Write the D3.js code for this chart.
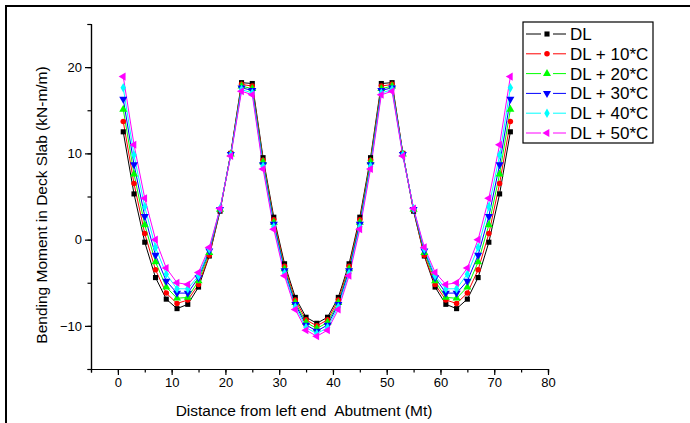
<!DOCTYPE html>
<html>
<head>
<meta charset="utf-8">
<script src="https://cdn.jsdelivr.net/npm/d3@7"></script>
<style>
  body { margin: 0; background: #fff; }
  svg { display: block; font-family: "Liberation Sans", Arial, sans-serif; }
</style>
</head>
<body>
<script>
// distance along the deck (Mt)
const distance = [1, 3, 5, 7, 9, 11, 13, 15, 17, 19, 21, 23, 25, 27, 29, 31, 33, 35, 37,
                  39, 41, 43, 45, 47, 49, 51, 53, 55, 57, 59, 61, 63, 65, 67, 69, 71, 73];

// bending moment (kN-m/m) for each load case
const dl = [12.5, 5.3, -0.3, -4.4, -6.9, -8.0, -7.5, -5.5, -1.9, 3.3, 10.0, 18.2, 18.1, 9.5, 2.6, -2.8, -6.7, -9.0, -9.7,
            -9.0, -6.7, -2.8, 2.6, 9.5, 18.1, 18.2, 10.0, 3.3, -1.9, -5.5, -7.5, -8.0, -6.9, -4.4, -0.3, 5.3, 12.5];
const dl10 = [13.7, 6.5, 0.7, -3.5, -6.2, -7.4, -7.0, -5.2, -1.8, 3.4, 10.0, 18.0, 17.8, 9.2, 2.3, -3.1, -7.0, -9.3, -10.0,
              -9.3, -7.0, -3.1, 2.3, 9.2, 17.8, 18.0, 10.0, 3.4, -1.8, -5.2, -7.0, -7.4, -6.2, -3.5, 0.7, 6.5, 13.7];
const dl20 = [15.1, 7.6, 1.7, -2.6, -5.5, -6.8, -6.7, -4.8, -1.5, 3.5, 9.9, 17.8, 17.5, 9.0, 2.0, -3.4, -7.3, -9.6, -10.3,
              -9.6, -7.3, -3.4, 2.0, 9.0, 17.5, 17.8, 9.9, 3.5, -1.5, -4.8, -6.7, -6.8, -5.5, -2.6, 1.7, 7.6, 15.1];
const dl30 = [16.3, 8.7, 2.7, -1.8, -4.8, -6.2, -6.2, -4.4, -1.3, 3.5, 9.9, 17.6, 17.3, 8.7, 1.8, -3.6, -7.5, -9.9, -10.6,
              -9.9, -7.5, -3.6, 1.8, 8.7, 17.3, 17.6, 9.9, 3.5, -1.3, -4.4, -6.2, -6.2, -4.8, -1.8, 2.7, 8.7, 16.3];
const dl40 = [17.6, 9.8, 3.8, -0.9, -4.0, -5.7, -5.7, -4.2, -1.1, 3.6, 9.8, 17.4, 17.0, 8.5, 1.5, -3.9, -7.8, -10.2, -10.9,
              -10.2, -7.8, -3.9, 1.5, 8.5, 17.0, 17.4, 9.8, 3.6, -1.1, -4.2, -5.7, -5.7, -4.0, -0.9, 3.8, 9.8, 17.6];
const dl50 = [18.9, 11.0, 4.8, 0.0, -3.3, -5.0, -5.2, -3.8, -0.9, 3.6, 9.7, 17.2, 16.8, 8.2, 1.2, -4.2, -8.1, -10.5, -11.2,
              -10.5, -8.1, -4.2, 1.2, 8.2, 16.8, 17.2, 9.7, 3.6, -0.9, -3.8, -5.2, -5.0, -3.3, 0.0, 4.8, 11.0, 18.9];

const seriesNames = ["DL", "DL + 10*C", "DL + 20*C", "DL + 30*C", "DL + 40*C", "DL + 50*C"];
const seriesValues = [dl, dl10, dl20, dl30, dl40, dl50];
const seriesColors = ["#000000", "#ff0000", "#00ff00", "#0000ff", "#00ffff", "#ff00ff"];

const xTicks = [0, 10, 20, 30, 40, 50, 60, 70, 80];
const yTicks = [-10, 0, 10, 20];

const width = 690, height = 423;
const margin = { top: 24, right: 142, bottom: 54, left: 91 };

const svg = d3.select("body").append("svg")
    .attr("width", width)
    .attr("height", height);

// figure frame (only top and left edges show)
svg.append("line").attr("x1", 5).attr("x2", width).attr("y1", 6).attr("y2", 6)
    .attr("stroke", "#000").attr("stroke-width", 2);
svg.append("line").attr("x1", 6).attr("x2", 6).attr("y1", 5).attr("y2", height)
    .attr("stroke", "#000").attr("stroke-width", 2);

const x = d3.scaleLinear().domain([-5, 80]).range([margin.left, width - margin.right]);
const y = d3.scaleLinear().domain([-15, 25]).range([height - margin.bottom, margin.top]);

// axes: major ticks with labels, minor ticks in between
const xAxis = svg.append("g")
    .attr("transform", `translate(0,${y(-15)})`);
xAxis.call(d3.axisBottom(x).tickValues(d3.range(-5, 81, 5)).tickSize(3.5).tickFormat(""));
xAxis.call(g => g.append("g").call(d3.axisBottom(x).tickValues(xTicks).tickSize(6).tickSizeOuter(0)));

const yAxis = svg.append("g")
    .attr("transform", `translate(${x(-5)},0)`);
yAxis.call(d3.axisLeft(y).tickValues(d3.range(-15, 26, 5)).tickSize(3.5).tickFormat(""));
yAxis.call(g => g.append("g").call(d3.axisLeft(y).tickValues(yTicks).tickSize(6).tickSizeOuter(0)));

svg.selectAll(".domain").attr("stroke", "#000").attr("stroke-width", 1.2);
svg.selectAll(".tick line").attr("stroke", "#000").attr("stroke-width", 1.2);
svg.selectAll(".tick text").attr("font-size", 13).attr("fill", "#000")
    .attr("font-family", "Liberation Sans, Arial, sans-serif");

// axis titles
svg.append("text")
    .attr("x", 304)
    .attr("y", 416)
    .attr("text-anchor", "middle")
    .attr("font-size", 15.5)
    .style("white-space", "pre")
    .text("Distance from left end  Abutment (Mt)");

svg.append("text")
    .attr("transform", `translate(47,205) rotate(-90)`)
    .attr("text-anchor", "middle")
    .attr("font-size", 15.5)
    .text("Bending Moment in Deck Slab (kN-m/m)");

// markers
const symbols = [
    { type: d3.symbolSquare, size: 26, rot: 0 },
    { type: d3.symbolCircle, size: 24, rot: 0 },
    { type: d3.symbolTriangle, size: 28, rot: 0 },
    { type: d3.symbolTriangle, size: 28, rot: 180 },
    { type: d3.symbolDiamond, size: 26, rot: 0 },
    { type: d3.symbolTriangle, size: 28, rot: -90 }
];

const line = d3.line()
    .x((d, i) => x(distance[i]))
    .y(d => y(d));

seriesValues.forEach((vals, s) => {
    svg.append("path")
        .datum(vals)
        .attr("fill", "none")
        .attr("stroke", seriesColors[s])
        .attr("stroke-width", 1)
        .attr("d", line);
});

seriesValues.forEach((vals, s) => {
    const sym = d3.symbol().type(symbols[s].type).size(symbols[s].size);
    svg.append("g").selectAll("path")
        .data(vals)
        .enter().append("path")
        .attr("d", sym)
        .attr("fill", seriesColors[s])
        .attr("transform", (d, i) => `translate(${x(distance[i])},${y(d)}) rotate(${symbols[s].rot})`);
});

// legend
const legend = svg.append("g");
legend.append("rect")
    .attr("x", 523).attr("y", 22)
    .attr("width", 130).attr("height", 121)
    .attr("fill", "#fff")
    .attr("stroke", "#000")
    .attr("stroke-width", 1.2);

seriesNames.forEach((name, s) => {
    const ly = 34 + s * 19.8;
    const row = legend.append("g");
    row.append("line").attr("x1", 526).attr("x2", 541).attr("y1", ly).attr("y2", ly)
        .attr("stroke", seriesColors[s]);
    row.append("line").attr("x1", 553).attr("x2", 566).attr("y1", ly).attr("y2", ly)
        .attr("stroke", seriesColors[s]);
    row.append("path")
        .attr("d", d3.symbol().type(symbols[s].type).size(symbols[s].size)())
        .attr("fill", seriesColors[s])
        .attr("transform", `translate(547,${ly}) rotate(${symbols[s].rot})`);
    row.append("text")
        .attr("x", 570)
        .attr("y", ly + 6)
        .attr("font-size", 17)
        .text(name);
});
</script>
</body>
</html>
